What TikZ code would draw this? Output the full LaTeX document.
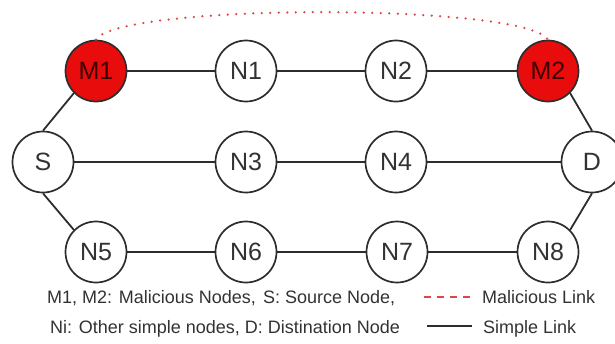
\documentclass[tikz,border=0pt]{standalone}
\usepackage{fontspec}
\setmainfont{Liberation Sans}
\definecolor{lnk}{RGB}{45,45,45}
\definecolor{txt}{RGB}{50,50,50}
\definecolor{malred}{RGB}{232,12,12}
\definecolor{dotred}{RGB}{225,70,70}
\tikzset{
  nd/.style={circle,draw=lnk,line width=1.7pt,minimum size=61pt,inner sep=0pt,fill=white,
    font=\fontsize{25}{27}\selectfont,text=txt},
  mal/.style={nd,fill=malred,text={rgb,255:red,60;green,0;blue,0}},
  link/.style={draw=lnk,line width=1.8pt},
  mallink/.style={draw=dotred,line width=2.5pt,line cap=round,dash pattern=on 0pt off 8.5pt},
  legtxt/.style={anchor=base west,inner sep=0pt,font=\fontsize{18}{20}\selectfont,text=txt}
}
\begin{document}
\begin{tikzpicture}[x=1pt,y=-1pt]
\useasboundingbox (0,0) rectangle (615,343);
\clip (0,0) rectangle (615,343);
% nodes
\node[mal] (M1) at (96,71) {M1};
\node[nd]  (N1) at (246,71) {N1};
\node[nd]  (N2) at (396,71) {N2};
\node[mal] (M2) at (548,71) {M2};
\node[nd]  (S)  at (43,162) {S};
\node[nd]  (N3) at (246,162) {N3};
\node[nd]  (N4) at (396,162) {N4};
\node[nd]  (D)  at (592,162) {D};
\node[nd]  (N5) at (96,252) {N5};
\node[nd]  (N6) at (246,252) {N6};
\node[nd]  (N7) at (397,252) {N7};
\node[nd]  (N8) at (548,252) {N8};
% links
\draw[link] (M1) -- (N1) (N1) -- (N2) (N2) -- (M2);
\draw[link] (S) -- (N3) (N3) -- (N4) (N4) -- (D);
\draw[link] (N5) -- (N6) (N6) -- (N7) (N7) -- (N8);
\draw[link] (M1.south west) -- (S.north);
\draw[link] (S.south) -- (N5.north west);
\draw[link] (M2.south east) -- (D.north);
\draw[link] (D.south) -- (N8.north east);
% malicious link
\draw[mallink] (M1.north) .. controls (118,3) and (525,3) .. (M2.north);
% legend
\node[legtxt] (L1) at (47,303.5) {M1, M2: Malicious Nodes,};
\node[legtxt] (L2) at (263,303.5) {S: Source Node,};
\node[legtxt] (L3) at (50,333) {Ni: Other simple nodes, D: Distination Node};
\coordinate (ra) at (424,297);
\coordinate (rb) at (471,297);
\draw[draw=dotred,line width=2pt,dash pattern=on 7pt off 6pt] (ra) -- (rb);
\node[legtxt] (L4) at (482,303.5) {Malicious Link};
\coordinate (ba) at (427,326);
\coordinate (bb) at (472,326);
\draw[link] (ba) -- (bb);
\node[legtxt] (L5) at (483,333) {Simple Link};
\end{tikzpicture}
\end{document}
